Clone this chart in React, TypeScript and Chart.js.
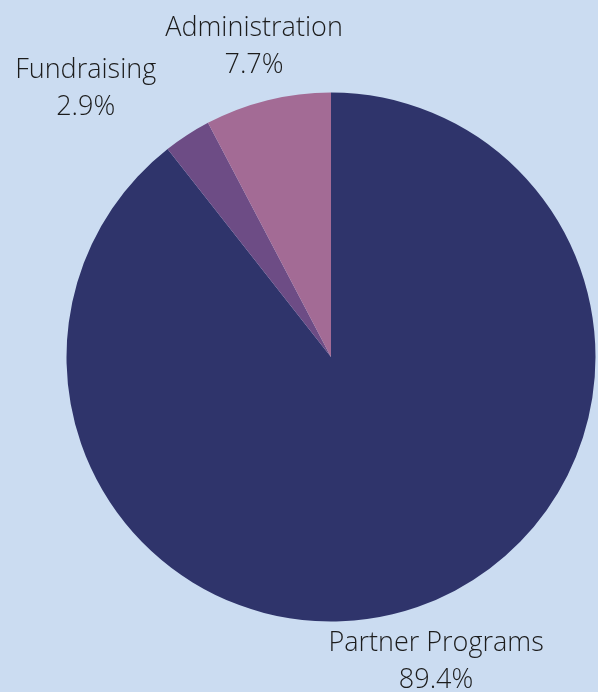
import React, { useEffect, useRef } from "react";
import { Chart, registerables } from "chart.js";

Chart.register(...registerables);

const categories = ["Partner Programs", "Fundraising", "Administration"];
const shares = [89.4, 2.9, 7.7];
const percentLabels = ["89.4%", "2.9%", "7.7%"];
const sliceColors = ["#2f346b", "#6d4c85", "#a36b95"];

const BG = "#cbdcf1";
const FONT = '300 27px "Open Sans"';

const outsideLabels = {
  id: "outsideLabels",
  afterDatasetsDraw(chart: any) {
    const ctx = chart.ctx;
    const meta = chart.getDatasetMeta(0);
    ctx.save();
    ctx.font = FONT;
    ctx.fillStyle = "#1c1c1c";
    ctx.textAlign = "center";
    ctx.textBaseline = "middle";
    const lineGap = 37;
    const boxes: any[] = [];
    meta.data.forEach((arc: any, i: number) => {
      const mid = (arc.startAngle + arc.endAngle) / 2;
      const d = arc.outerRadius * 1.215;
      const x = arc.x + Math.cos(mid) * d;
      const y = arc.y + Math.sin(mid) * d + 1.5;
      const w = Math.max(
        ctx.measureText(categories[i]).width,
        ctx.measureText(percentLabels[i]).width
      );
      boxes.push({ i, x, y, w, h: lineGap * 2 });
    });
    // simple overlap resolution: push the left-most label further left
    for (let a = 0; a < boxes.length; a++) {
      for (let b = 0; b < boxes.length; b++) {
        if (a === b) continue;
        const A = boxes[a];
        const B = boxes[b];
        if (A.x < B.x && Math.abs(A.y - B.y) < A.h) {
          const rightA = A.x + A.w / 2;
          const leftB = B.x - B.w / 2 - 9;
          if (rightA > leftB) A.x -= rightA - leftB;
        }
      }
    }
    boxes.forEach((bx) => {
      ctx.fillText(categories[bx.i], bx.x, bx.y - lineGap / 2);
      ctx.fillText(percentLabels[bx.i], bx.x, bx.y + lineGap / 2);
    });
    ctx.restore();
  },
};

export default function App() {
  const ref = useRef<HTMLCanvasElement>(null);
  useEffect(() => {
    let chart: Chart | null = null;
    let cancelled = false;
    const make = () => {
      if (cancelled || !ref.current) return;
      chart = new Chart(ref.current, {
        type: "pie",
        data: {
          labels: categories,
          datasets: [
            {
              data: shares,
              backgroundColor: sliceColors,
              borderWidth: 0,
            },
          ],
        },
        options: {
          animation: false,
          responsive: true,
          maintainAspectRatio: false,
          layout: {
            padding: { left: 66.5, right: 2.5, top: 92.5, bottom: 70.5 },
          },
          plugins: {
            legend: { display: false },
            tooltip: { enabled: false },
          },
        },
        plugins: [outsideLabels],
      });
    };
    const fonts: any = (document as any).fonts;
    if (fonts && fonts.load) {
      fonts.load(FONT).then(make, make);
    } else make();
    return () => {
      cancelled = true;
      if (chart) chart.destroy();
    };
  }, []);
  return (
    <div
      style={{
        position: "absolute",
        left: 0,
        top: 0,
        width: 598,
        height: 692,
        background: BG,
      }}
    >
      <canvas ref={ref} />
    </div>
  );
}
